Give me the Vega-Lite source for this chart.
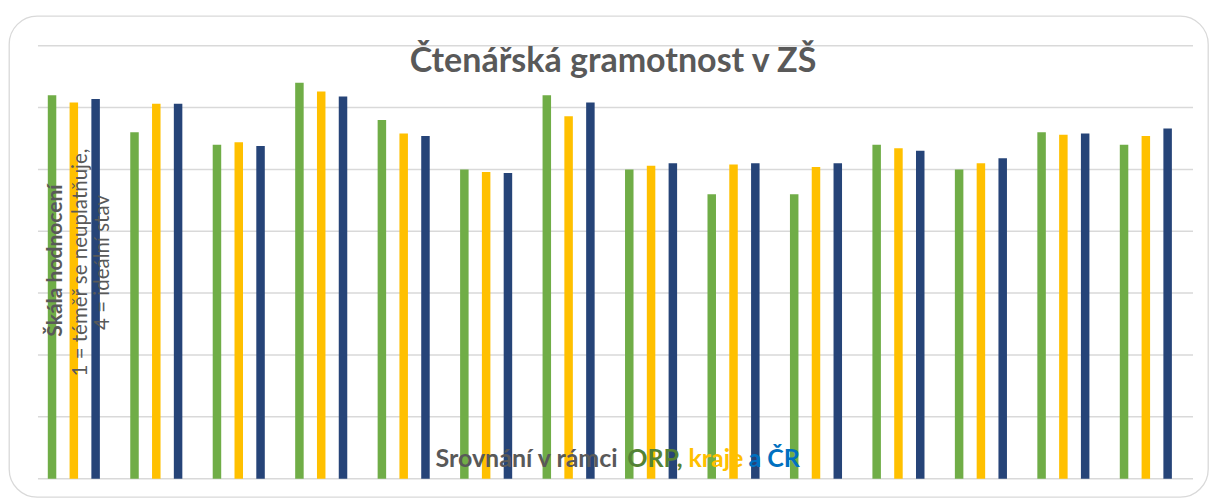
{
  "$schema": "https://vega.github.io/schema/vega-lite/v6.json",
  "width": 1199,
  "height": 481,
  "autosize": {"type": "none"},
  "padding": {"left": 9, "top": 16, "right": 2, "bottom": 4},
  "background": "white",
  "config": {
    "font": "Lato",
    "view": {"stroke": "#D9D9D9", "strokeWidth": 1.3, "cornerRadius": 28},
    "axis": {"labels": false, "ticks": false, "domain": false, "grid": false, "zindex": 1, "titleColor": "#595959", "titlePadding": 0}
  },
  "datasets": {
    "grid": [{"v": 0}, {"v": 0.5}, {"v": 1}, {"v": 1.5}, {"v": 2}, {"v": 2.5}, {"v": 3}, {"v": 3.5}],
    "scores": [
      {"g": 1, "s": "ORP", "v": 3.10}, {"g": 1, "s": "kraj", "v": 3.04}, {"g": 1, "s": "ČR", "v": 3.07},
      {"g": 2, "s": "ORP", "v": 2.80}, {"g": 2, "s": "kraj", "v": 3.03}, {"g": 2, "s": "ČR", "v": 3.03},
      {"g": 3, "s": "ORP", "v": 2.70}, {"g": 3, "s": "kraj", "v": 2.72}, {"g": 3, "s": "ČR", "v": 2.69},
      {"g": 4, "s": "ORP", "v": 3.20}, {"g": 4, "s": "kraj", "v": 3.13}, {"g": 4, "s": "ČR", "v": 3.09},
      {"g": 5, "s": "ORP", "v": 2.90}, {"g": 5, "s": "kraj", "v": 2.79}, {"g": 5, "s": "ČR", "v": 2.77},
      {"g": 6, "s": "ORP", "v": 2.50}, {"g": 6, "s": "kraj", "v": 2.48}, {"g": 6, "s": "ČR", "v": 2.47},
      {"g": 7, "s": "ORP", "v": 3.10}, {"g": 7, "s": "kraj", "v": 2.93}, {"g": 7, "s": "ČR", "v": 3.04},
      {"g": 8, "s": "ORP", "v": 2.50}, {"g": 8, "s": "kraj", "v": 2.53}, {"g": 8, "s": "ČR", "v": 2.55},
      {"g": 9, "s": "ORP", "v": 2.30}, {"g": 9, "s": "kraj", "v": 2.54}, {"g": 9, "s": "ČR", "v": 2.55},
      {"g": 10, "s": "ORP", "v": 2.30}, {"g": 10, "s": "kraj", "v": 2.52}, {"g": 10, "s": "ČR", "v": 2.55},
      {"g": 11, "s": "ORP", "v": 2.70}, {"g": 11, "s": "kraj", "v": 2.67}, {"g": 11, "s": "ČR", "v": 2.65},
      {"g": 12, "s": "ORP", "v": 2.50}, {"g": 12, "s": "kraj", "v": 2.55}, {"g": 12, "s": "ČR", "v": 2.59},
      {"g": 13, "s": "ORP", "v": 2.80}, {"g": 13, "s": "kraj", "v": 2.78}, {"g": 13, "s": "ČR", "v": 2.79},
      {"g": 14, "s": "ORP", "v": 2.70}, {"g": 14, "s": "kraj", "v": 2.77}, {"g": 14, "s": "ČR", "v": 2.83}
    ]
  },
  "resolve": {"axis": {"x": "independent", "y": "independent"}},
  "layer": [
    {
      "data": {"name": "grid"},
      "mark": {"type": "rule", "color": "#D9D9D9", "strokeWidth": 1.5},
      "encoding": {
        "y": {
          "field": "v", "type": "quantitative",
          "scale": {"domain": [-0.148, 3.74], "nice": false, "zero": false},
          "axis": {"orient": "left", "zindex": 2, "title": "Škála hodnocení", "titleFontSize": 21, "titleFontWeight": "bold", "titleAngle": 270, "titleAlign": "center", "titleBaseline": "alphabetic", "titleX": 52, "titleY": 244}
        },
        "x": {
          "datum": 1, "type": "ordinal", "bandPosition": 0.065,
          "scale": {"type": "band"},
          "axis": {"orient": "top", "zindex": 2, "title": "Čtenářská gramotnost v ZŠ", "titleFontSize": 34, "titleFontWeight": "bold", "titleAngle": 0, "titleAlign": "center", "titleBaseline": "alphabetic", "titleX": 603.5, "titleY": 55.7}
        },
        "x2": {"datum": 14, "bandPosition": 1.072}
      }
    },
    {
      "data": {"name": "scores"},
      "mark": {"type": "bar"},
      "encoding": {
        "x": {
          "field": "g", "type": "ordinal",
          "scale": {"type": "band", "paddingInner": 0, "paddingOuter": 0.27, "align": 0.53},
          "axis": {"orient": "bottom", "zindex": 2, "title": "Srovnání v rámci", "titleFontSize": 25, "titleFontWeight": "bold", "titleAngle": 0, "titleAlign": "left", "titleBaseline": "alphabetic", "titleX": 426, "titleY": -30.3}
        },
        "xOffset": {
          "field": "s", "type": "nominal",
          "scale": {"domain": ["ORP", "kraj", "ČR"], "paddingInner": 0.61, "paddingOuter": 0.697}
        },
        "y": {
          "field": "v", "type": "quantitative",
          "axis": {"orient": "left", "zindex": 2, "title": ["1 = téměř se neuplatňuje,", "4 = ideální stav"], "titleFontSize": 20.5, "titleFontWeight": "normal", "titleAngle": 270, "titleAlign": "center", "titleBaseline": "alphabetic", "titleX": 77, "titleY": 246, "titleLineHeight": 22}
        },
        "y2": {"datum": 0},
        "color": {
          "field": "s", "type": "nominal",
          "scale": {"domain": ["ORP", "kraj", "ČR"], "range": ["#70AD47", "#FFC000", "#264478"]},
          "legend": null
        }
      }
    },
    {
      "data": {"values": []},
      "mark": {"type": "bar"},
      "encoding": {
        "x": {
          "field": "g", "type": "ordinal",
          "axis": {"orient": "bottom", "zindex": 2, "title": "ORP,", "titleColor": "#548235", "titleFontSize": 25, "titleFontWeight": "bold", "titleAngle": 0, "titleAlign": "left", "titleBaseline": "alphabetic", "titleX": 617.7, "titleY": -30.3}
        }
      }
    },
    {
      "data": {"values": []},
      "mark": {"type": "bar"},
      "encoding": {
        "x": {
          "field": "g", "type": "ordinal",
          "axis": {"orient": "bottom", "zindex": 2, "title": "kraje", "titleColor": "#FFC000", "titleFontSize": 25, "titleFontWeight": "bold", "titleAngle": 0, "titleAlign": "left", "titleBaseline": "alphabetic", "titleX": 679, "titleY": -30.3}
        }
      }
    },
    {
      "data": {"values": []},
      "mark": {"type": "bar"},
      "encoding": {
        "x": {
          "field": "g", "type": "ordinal",
          "axis": {"orient": "bottom", "zindex": 2, "title": "a ČR", "titleColor": "#0070C0", "titleFontSize": 25, "titleFontWeight": "bold", "titleAngle": 0, "titleAlign": "left", "titleBaseline": "alphabetic", "titleX": 739, "titleY": -30.3}
        }
      }
    }
  ]
}
